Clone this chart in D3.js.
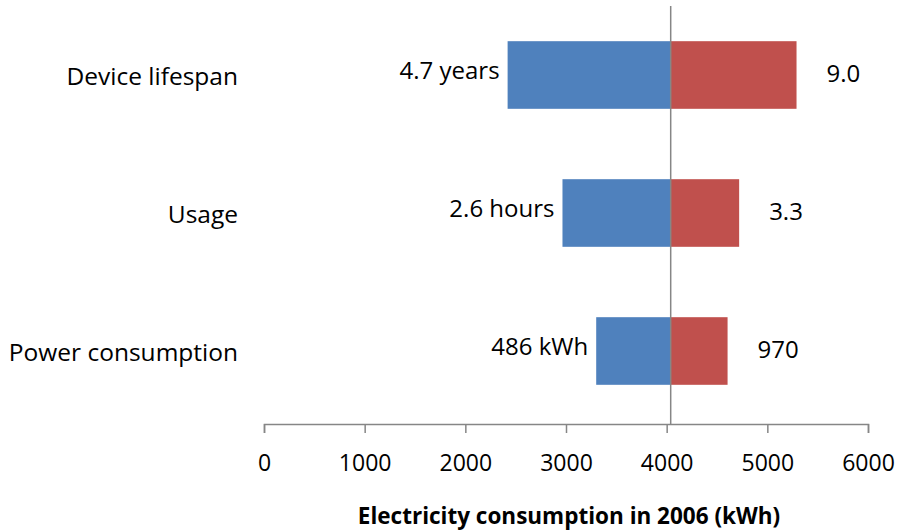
<!DOCTYPE html>
<html>
<head>
<meta charset="utf-8">
<script src="https://cdn.jsdelivr.net/npm/d3@7"></script>
<style>
  body { margin: 0; background: #fff; }
  svg text { font-family: "Open Sans", sans-serif; fill: #000; }
</style>
</head>
<body>
<svg id="chart" width="899" height="531"></svg>
<script>
// data
const categories = ['Device lifespan', 'Usage', 'Power consumption']
const lowValues = [2420, 2965, 3300]
const highValues = [5290, 4720, 4605]
const lowLabels = ['4.7 years', '2.6 hours', '486 kWh']
const highLabels = ['9.0', '3.3', '970']
const baseline = 4040
const xTicks = [0, 1000, 2000, 3000, 4000, 5000, 6000]

const svg = d3.select('#chart')

const x = d3.scaleLinear().domain([0, 6000]).range([264, 868])
const y = d3.scaleBand().domain(categories).range([6, 420])
  .paddingInner(0.51).paddingOuter(0.255)
const axisY = 424
const grey = '#868686'

// x axis
const xAxis = svg.append('g')
  .attr('transform', 'translate(0,' + axisY + ')')
  .call(d3.axisBottom(x).tickValues(xTicks).tickFormat(d3.format('d'))
    .tickSize(9).tickSizeOuter(9).tickPadding(22))
xAxis.select('.domain').attr('stroke', grey).attr('stroke-width', 1.5)
xAxis.selectAll('.tick line').attr('stroke', grey).attr('stroke-width', 1.5)
xAxis.selectAll('.tick text')
  .style('font-family', '"Open Sans", sans-serif')
  .style('font-size', '23px')
  .attr('fill', '#000')

// bars
const rows = categories.map((c, i) => ({
  cat: c, low: lowValues[i], high: highValues[i], lowLabel: lowLabels[i], highLabel: highLabels[i]
}))

svg.selectAll('rect.low')
  .data(rows)
  .join('rect')
  .attr('class', 'low')
  .attr('x', d => x(d.low))
  .attr('y', d => y(d.cat))
  .attr('width', d => x(baseline) - x(d.low))
  .attr('height', y.bandwidth())
  .style('fill', '#4F81BD')

svg.selectAll('rect.high')
  .data(rows)
  .join('rect')
  .attr('class', 'high')
  .attr('x', x(baseline))
  .attr('y', d => y(d.cat))
  .attr('width', d => x(d.high) - x(baseline))
  .attr('height', y.bandwidth())
  .style('fill', '#C0504D')

// baseline line
svg.append('line')
  .attr('x1', x(baseline)).attr('x2', x(baseline))
  .attr('y1', 6).attr('y2', axisY)
  .attr('stroke', grey)
  .attr('stroke-width', 1.5)

// value labels
svg.selectAll('text.lowLabel')
  .data(rows)
  .join('text')
  .attr('class', 'lowLabel')
  .attr('x', d => x(d.low) - 8)
  .attr('y', d => y(d.cat) + y.bandwidth() / 2 - 6)
  .attr('text-anchor', 'end')
  .attr('dominant-baseline', 'central')
  .style('font-size', '24px')
  .text(d => d.lowLabel)

svg.selectAll('text.highLabel')
  .data(rows)
  .join('text')
  .attr('class', 'highLabel')
  .attr('x', d => x(d.high) + 30)
  .attr('y', d => y(d.cat) + y.bandwidth() / 2 - 3)
  .attr('dominant-baseline', 'central')
  .style('font-size', '24px')
  .text(d => d.highLabel)

// category labels
svg.selectAll('text.cat')
  .data(categories)
  .join('text')
  .attr('class', 'cat')
  .attr('x', 238)
  .attr('y', d => y(d) + y.bandwidth() / 2)
  .attr('text-anchor', 'end')
  .attr('dominant-baseline', 'central')
  .style('font-size', '24.5px')
  .text(d => d)

// axis title
svg.append('text')
  .attr('x', 569)
  .attr('y', 515)
  .attr('text-anchor', 'middle')
  .attr('dominant-baseline', 'central')
  .style('font-size', '22.5px')
  .style('font-weight', 'bold')
  .text('Electricity consumption in 2006 (kWh)')
</script>
</body>
</html>
